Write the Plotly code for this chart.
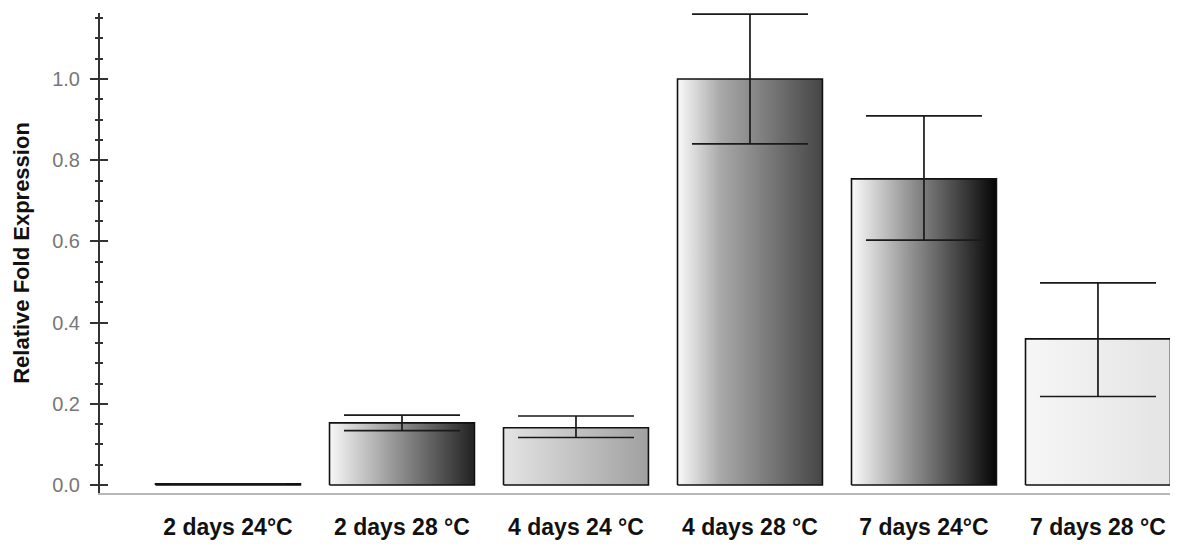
import plotly.graph_objects as go

# ---- data ----
categories = ["2 days 24°C", "2 days 28 °C", "4 days 24 °C", "4 days 28 °C", "7 days 24°C", "7 days 28 °C"]
values = [0.003, 0.153, 0.141, 1.0, 0.754, 0.36]
err_plus = [0.0, 0.019, 0.029, 0.16, 0.155, 0.138]
err_minus = [0.0, 0.019, 0.024, 0.16, 0.151, 0.142]

# ---- styles ----
bar_gradients = [
    [[0, "#f0f0f0"], [1, "#cccccc"]],
    [[0, "#f7f7f7"], [0.4, "#a0a0a0"], [1, "#222222"]],
    [[0, "#e4e4e4"], [1, "#a0a0a0"]],
    [[0, "#fafafa"], [0.3, "#a8a8a8"], [1, "#454545"]],
    [[0, "#fafafa"], [0.35, "#a0a0a0"], [1, "#050505"]],
    [[0, "#f6f6f6"], [1, "#e4e4e4"]],
]
bar_width = 0.833
half = bar_width / 2
xs = list(range(len(categories)))

fig = go.Figure()

for i, (x, v) in enumerate(zip(xs, values)):
    fig.add_trace(go.Scatter(
        x=[x - half, x - half, x + half, x + half, x - half],
        y=[0, v, v, 0, 0],
        mode="lines",
        fill="toself",
        fillgradient=dict(type="horizontal", colorscale=bar_gradients[i]),
        line=dict(color="#111111", width=1.6),
        hoverinfo="skip",
        showlegend=False,
    ))

fig.add_trace(go.Scatter(
    x=xs, y=values, mode="markers",
    marker=dict(size=1, opacity=0),
    error_y=dict(type="data", symmetric=False, array=err_plus, arrayminus=err_minus,
                 color="#1a1a1a", thickness=1.7, width=58),
    showlegend=False,
))

# invisible trace on overlaying axis for inward ticks
fig.add_trace(go.Scatter(x=[xs[0]], y=[0], yaxis="y2", mode="markers",
                         marker=dict(opacity=0), showlegend=False, hoverinfo="skip"))

yrange = [-0.0197, 1.1626]
fig.update_layout(
    width=1177, height=548,
    margin=dict(l=100, r=7, t=13, b=55),
    paper_bgcolor="white", plot_bgcolor="white",
    font=dict(family="Liberation Sans, Arial, sans-serif"),
    xaxis=dict(
        range=[-0.7356, 5.414],
        tickvals=xs, ticktext=categories,
        showgrid=False, zeroline=False,
        showline=True, linecolor="#b8b8b8", linewidth=1.5,
        ticks="", ticklabelstandoff=13,
        tickfont=dict(size=23, color="#111111", weight="bold"),
    ),
    yaxis=dict(
        range=yrange,
        tickvals=[0, 0.2, 0.4, 0.6, 0.8, 1.0], tickformat=".1f",
        showgrid=False, zeroline=False,
        showline=True, linecolor="#333333", linewidth=2,
        ticks="outside", ticklen=8, tickwidth=2, tickcolor="#333333",
        minor=dict(dtick=0.05, tick0=0, ticks="outside", ticklen=3, tickwidth=2, tickcolor="#333333"),
        tickfont=dict(size=20, color="#777777"),
        ticklabelstandoff=6,
        title=dict(text="Relative Fold Expression", standoff=16,
                   font=dict(size=22, color="#111111", weight="bold")),
    ),
    yaxis2=dict(
        range=yrange, overlaying="y", side="left", anchor="x",
        tickvals=[0, 0.2, 0.4, 0.6, 0.8, 1.0], showticklabels=False,
        showgrid=False, zeroline=False, showline=False,
        ticks="inside", ticklen=8, tickwidth=2, tickcolor="#333333",
        minor=dict(dtick=0.05, tick0=0, ticks="inside", ticklen=3, tickwidth=2, tickcolor="#333333"),
    ),
)

fig.write_html("out.html")
